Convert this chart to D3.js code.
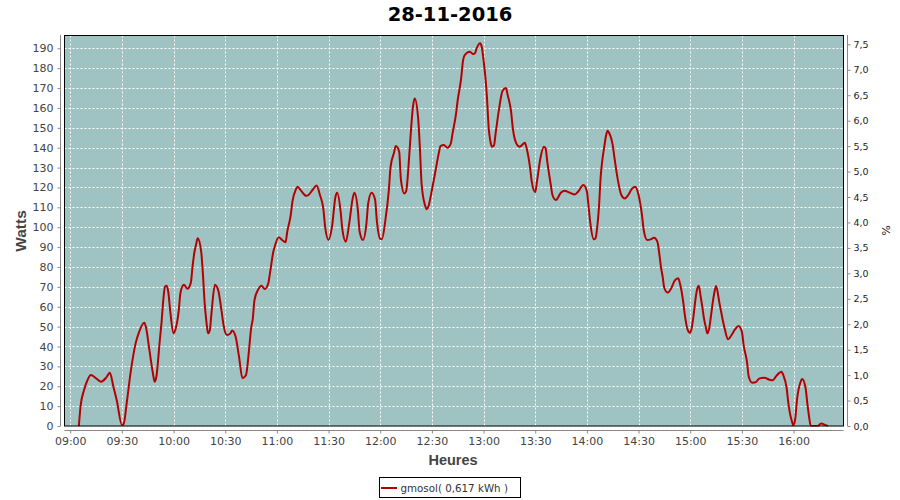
<!DOCTYPE html>
<html>
<head>
<meta charset="utf-8">
<script src="https://cdn.jsdelivr.net/npm/d3@7"></script>
<style>
  html, body { margin: 0; padding: 0; background: #ffffff; }
  svg { display: block; }
  text { font-family: "DejaVu Sans", Verdana, sans-serif; }
</style>
</head>
<body>
<svg id="chart" width="900" height="500"></svg>
<script>
// ---- data ----
const chartTitle = "28-11-2016";
const seriesName = "gmosol( 0,617 kWh )";
const yLabelLeft = "Watts";
const yLabelRight = "%";
const xLabel = "Heures";

const times = [
  "09:05","09:06","09:08","09:10","09:12","09:15","09:18","09:21","09:23","09:25",
  "09:27","09:30","09:31","09:33","09:35","09:38","09:40","09:43","09:44","09:46",
  "09:48","09:49","09:50","09:52","09:53","09:54","09:55","09:56","09:57","09:58",
  "10:00","10:01","10:03","10:04","10:06","10:08","10:10","10:11","10:12","10:13",
  "10:14","10:16","10:17","10:18","10:19","10:20","10:21","10:22","10:24","10:26",
  "10:27","10:28","10:29","10:31","10:33","10:34","10:36","10:38","10:40","10:42",
  "10:44","10:45","10:46","10:47","10:49","10:51","10:53","10:55","10:56","10:58",
  "10:59","11:01","11:03","11:05","11:06","11:08","11:09","11:11","11:12","11:14",
  "11:17","11:18","11:21","11:23","11:25","11:27","11:28","11:30","11:32","11:34",
  "11:35","11:37","11:38","11:40","11:42","11:44","11:45","11:47","11:48","11:50",
  "11:52","11:53","11:55","11:57","11:58","12:00","12:01","12:03","12:05","12:06",
  "12:08","12:09","12:11","12:12","12:14","12:15","12:17","12:18","12:19","12:20",
  "12:22","12:23","12:24","12:26","12:27","12:28","12:30","12:32","12:34","12:35",
  "12:37","12:39","12:41","12:42","12:44","12:45","12:47","12:48","12:49","12:52",
  "12:54","12:55","12:56","12:58","12:59","13:00","13:01","13:02","13:03","13:04",
  "13:05","13:06","13:07","13:09","13:11","13:13","13:14","13:16","13:17","13:19",
  "13:21","13:24","13:25","13:27","13:28","13:30","13:31","13:33","13:35","13:36",
  "13:37","13:39","13:40","13:42","13:45","13:47","13:50","13:53","13:55","13:58",
  "14:00","14:01","14:02","14:04","14:05","14:06","14:07","14:08","14:09","14:10",
  "14:11","14:12","14:13","14:14","14:15","14:16","14:17","14:18","14:20","14:22",
  "14:24","14:26","14:28","14:30","14:32","14:33","14:35","14:37","14:39","14:41",
  "14:42","14:43","14:44","14:45","14:47","14:49","14:51","14:53","14:54","14:56",
  "14:57","14:58","14:59","15:00","15:01","15:02","15:03","15:04","15:05","15:06",
  "15:07","15:08","15:09","15:10","15:11","15:12","15:13","15:14","15:15","15:17",
  "15:20","15:22","15:24","15:26","15:28","15:30","15:31","15:33","15:34","15:36",
  "15:38","15:40","15:43","15:46","15:48","15:50","15:53","15:54","15:56","15:57",
  "15:58","15:59","16:00","16:01","16:02","16:04","16:05","16:07","16:08","16:09",
  "16:10","16:14","16:16","16:19","16:20"
];
const watts = [
  0,10,18,23,25.6,24,22.3,24.5,26.8,20,
  13,0.5,1,13,26.6,41.7,47.4,52,49.5,38,
  26.5,22.3,24.8,43,52,63,70,70.5,67,58.3,
  46.6,48.3,58,67,71,69,72,80,86.9,91,
  94.4,88,77,62.5,53,46.6,48,56.7,71,68,
  63,57,50.8,45.8,46.6,48,45,34.9,24,25.5,
  40,49,54,63.4,68.4,70.5,68.9,71.8,77,88,
  91,95,93.6,92.4,97.7,106,112.8,119,120.4,118.4,
  115.8,116,119.1,121,116.2,109,100.3,93.6,100.3,115.3,
  117.4,108,99,92.7,102,114.5,117.4,108.7,98,93.6,
  102,112,117.4,114,103.6,94.2,94,103.6,118.7,130.4,
  137.5,140.8,138,124,117,118,138,150.6,160.6,164.8,
  155,140.5,122,111,109,110.5,118.7,127.9,137.2,140.8,
  141.3,140,142.2,147.2,157,164,175,183.3,186.5,188.3,
  187.1,187.5,190,192.5,190.5,184,176,164.8,149.7,143,
  140.5,141,147.2,159.5,168.5,170,166.5,158,149.7,142.2,
  140.5,142.5,139.7,130,122.9,117.6,122.9,134.7,140.5,139.7,
  133,121.5,116.2,113.7,117.5,118.4,117.4,116.5,118,121.2,
  118,110.3,102,93.9,94.4,100,110,125.4,134,140,
  145.5,148.5,147.3,145,141.3,135,129,123.7,116.2,114.5,
  116.2,119.2,120.3,116.2,106,98.6,93.6,93.9,94.7,92.5,
  86.9,80,75,69.3,67.1,69.3,73.1,74.3,71.8,62,
  55,50,47.5,46.9,50,56,63.4,68.8,70.6,65.5,
  60,54,49.9,46.6,49,55,61.7,67,70.4,61.7,
  49,43.6,45.8,48.6,50.3,47.4,40.7,32,24.8,21.8,
  22,23.8,24.3,23.3,23,25.2,27.3,25.7,19,11.4,
  6,2.5,0.3,3.8,13.1,22,23.6,19,11.4,4.7,
  0,0,1.3,0.3,0
];
const wattTicks = [0,10,20,30,40,50,60,70,80,90,100,110,120,130,140,150,160,170,180,190];
const pctTicks = [0,0.5,1,1.5,2,2.5,3,3.5,4,4.5,5,5.5,6,6.5,7,7.5];
const timeTicks = ["09:00","09:30","10:00","10:30","11:00","11:30","12:00","12:30","13:00","13:30","14:00","14:30","15:00","15:30","16:00"];
const wattsPerPercent = 25.6;   // 100 % = 2560 W

// ---- layout ----
const plot = { left: 64.5, right: 843.5, top: 35.5, bottom: 426.5 };
const parse = s => { const [h, m] = s.split(":").map(Number); return new Date(2016, 10, 28, h, m, 0); };

const x = d3.scaleTime()
  .domain([new Date(2016, 10, 28, 8, 56, 40), new Date(2016, 10, 28, 16, 29, 0)])
  .range([plot.left, plot.right]);
const yMax = 196.7;
const y = d3.scaleLinear().domain([0, yMax]).range([426, 35]);
const yPct = d3.scaleLinear().domain([0, yMax / wattsPerPercent]).range([426, 35]);

const svg = d3.select("#chart");

// title
svg.append("text")
  .attr("x", 450).attr("y", 21)
  .attr("text-anchor", "middle")
  .style("font-size", "19.5px").style("font-weight", "bold").attr("fill", "#000")
  .text(chartTitle);

// plot background
svg.append("rect")
  .attr("x", plot.left).attr("y", plot.top)
  .attr("width", plot.right - plot.left).attr("height", plot.bottom - plot.top)
  .attr("fill", "#9fc3c2");

// gridlines
const grid = svg.append("g");
grid.selectAll("line.h").data(wattTicks).join("line")
  .attr("x1", plot.left).attr("x2", plot.right)
  .attr("y1", d => Math.round(y(d)) + 0.5).attr("y2", d => Math.round(y(d)) + 0.5)
  .attr("stroke", "#ffffff").attr("stroke-width", 1).attr("stroke-dasharray", "2,2");
grid.selectAll("line.v").data(timeTicks.map(parse)).join("line")
  .attr("x1", d => Math.round(x(d)) + 0.5).attr("x2", d => Math.round(x(d)) + 0.5)
  .attr("y1", plot.top).attr("y2", plot.bottom)
  .attr("stroke", "#ffffff").attr("stroke-width", 1).attr("stroke-dasharray", "2,2");

// series line
const pts = times.map((t, i) => ({ t: parse(t), v: watts[i] }));
const clipId = "plotclip";
svg.append("clipPath").attr("id", clipId).append("rect")
  .attr("x", plot.left).attr("y", plot.top)
  .attr("width", plot.right - plot.left).attr("height", plot.bottom - plot.top);
svg.append("path")
  .datum(pts)
  .attr("clip-path", `url(#${clipId})`)
  .attr("fill", "none")
  .attr("stroke", "#b40000")
  .attr("stroke-width", 2)
  .attr("stroke-linejoin", "round")
  .attr("d", d3.line().x(d => x(d.t)).y(d => y(d.v)).curve(d3.curveMonotoneX));

// plot border
svg.append("rect")
  .attr("x", plot.left).attr("y", plot.top)
  .attr("width", plot.right - plot.left).attr("height", plot.bottom - plot.top - 0.5)
  .attr("fill", "none").attr("stroke", "#000").attr("stroke-width", 1);

// axes
function styleAxis(g, size, color) {
  g.select(".domain").attr("stroke", "#888888");
  g.selectAll(".tick line").attr("stroke", "#888888");
  g.selectAll(".tick text").attr("fill", color)
    .style("font-family", "'DejaVu Sans', Verdana, sans-serif").style("font-size", size);
}

const gLeft = svg.append("g").attr("transform", "translate(60.5,0)")
  .call(d3.axisLeft(y).tickValues(wattTicks).tickSize(3).tickSizeOuter(0).tickPadding(4))
  .call(g => styleAxis(g, "11px", "#444"));
gLeft.select(".domain").attr("d", `M0,35V426`);

const gRight = svg.append("g").attr("transform", "translate(847.5,0)")
  .call(d3.axisRight(yPct).tickValues(pctTicks).tickSize(3).tickSizeOuter(0).tickPadding(3)
    .tickFormat(d => d.toFixed(1).replace(".", ",")))
  .call(g => styleAxis(g, "9.5px", "#222"));
gRight.select(".domain").attr("d", `M0,35V426`);

const gBottom = svg.append("g").attr("transform", "translate(0,430.5)")
  .call(d3.axisBottom(x).tickValues(timeTicks.map(parse)).tickSize(3).tickSizeOuter(0).tickPadding(4)
    .tickFormat(d3.timeFormat("%H:%M")))
  .call(g => styleAxis(g, "11px", "#444"));
gBottom.select(".domain").attr("d", `M${plot.left},0H${plot.right}`);

// axis titles
svg.append("text")
  .attr("transform", "translate(26,231) rotate(-90)")
  .attr("text-anchor", "middle")
  .style("font-family", "'Liberation Sans', Arial, sans-serif")
  .style("font-size", "15.5px").style("font-weight", "bold").attr("fill", "#444")
  .text(yLabelLeft);
svg.append("text")
  .attr("transform", "translate(882,230.5) rotate(90)")
  .attr("text-anchor", "middle")
  .style("font-size", "11px").attr("fill", "#222")
  .text(yLabelRight);
svg.append("text")
  .attr("x", 453).attr("y", 465)
  .attr("text-anchor", "middle")
  .style("font-family", "'Liberation Sans', Arial, sans-serif")
  .style("font-size", "14.5px").style("font-weight", "bold").attr("fill", "#444")
  .text(xLabel);

// legend
const lg = svg.append("g");
lg.append("rect").attr("x", 379.5).attr("y", 477.5).attr("width", 141).attr("height", 20)
  .attr("fill", "#fff").attr("stroke", "#000").attr("stroke-width", 1);
lg.append("line").attr("x1", 381).attr("x2", 397).attr("y1", 488).attr("y2", 488)
  .attr("stroke", "#b40000").attr("stroke-width", 2);
lg.append("text").attr("x", 400.5).attr("y", 492)
  .style("font-size", "10.3px").attr("fill", "#333")
  .text(seriesName);
</script>
</body>
</html>
